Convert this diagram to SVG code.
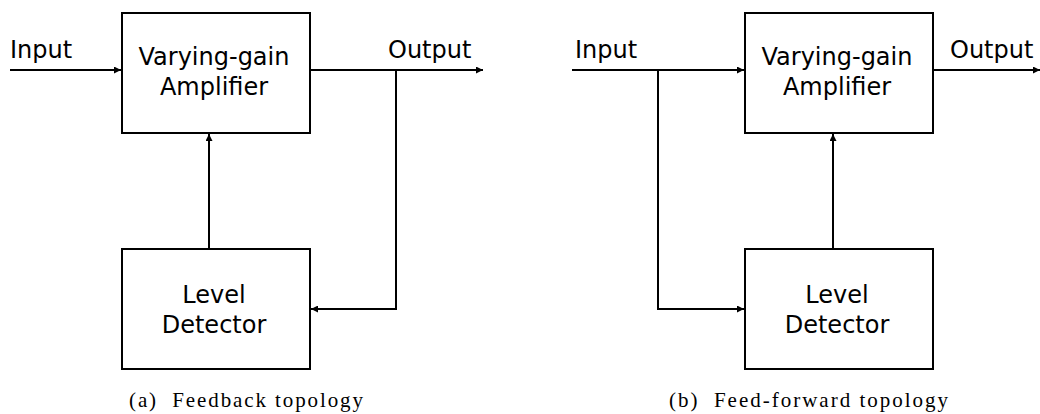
<svg xmlns="http://www.w3.org/2000/svg" width="1040" height="414" viewBox="0 0 1040 414">
  <style>
    .box { fill: #ffffff; stroke: #000000; stroke-width: 2; }
    .wire { fill: none; stroke: #000000; stroke-width: 2; }
    .lbl { font-family: "DejaVu Sans", sans-serif; font-size: 24px; fill: #000000; }
    .mid { text-anchor: middle; }
    .cap { font-family: "Liberation Serif", serif; font-size: 21px; fill: #000000; }
  </style>
  <defs>
    <marker id="arrow" viewBox="0 0 10 10" refX="10" refY="5" markerWidth="7" markerHeight="7" markerUnits="userSpaceOnUse" orient="auto">
      <path d="M0,0 L10,5 L0,10 Z" fill="#000000"/>
    </marker>
  </defs>
  <rect width="1040" height="414" fill="#ffffff"/>

  <!-- (a) feedback topology -->
  <g id="connectors-a">
    <line class="wire" x1="10" y1="70" x2="121" y2="70" marker-end="url(#arrow)"/>
    <line class="wire" x1="310" y1="70" x2="483" y2="70" marker-end="url(#arrow)"/>
    <polyline class="wire" points="396,70 396,309 311,309" marker-end="url(#arrow)"/>
    <line class="wire" x1="209" y1="249" x2="209" y2="134" marker-end="url(#arrow)"/>
  </g>
  <g id="amp-a">
    <rect class="box" x="122" y="13" width="188" height="120"/>
    <text class="lbl mid" x="214" y="65">Varying-gain</text>
    <text class="lbl mid" x="214" y="95">Amplifier</text>
  </g>
  <g id="det-a">
    <rect class="box" x="122" y="249" width="188" height="120"/>
    <text class="lbl mid" x="214" y="303">Level</text>
    <text class="lbl mid" x="214" y="333">Detector</text>
  </g>
  <text class="lbl" x="10" y="58">Input</text>
  <text class="lbl" x="388" y="58">Output</text>
  <text class="cap" x="129" y="407" textLength="234" lengthAdjust="spacing" xml:space="preserve">(a)  Feedback topology</text>

  <!-- (b) feed-forward topology -->
  <g id="connectors-b">
    <line class="wire" x1="572" y1="70" x2="744" y2="70" marker-end="url(#arrow)"/>
    <polyline class="wire" points="658,70 658,309 744,309" marker-end="url(#arrow)"/>
    <line class="wire" x1="933" y1="70" x2="1040" y2="70" marker-end="url(#arrow)"/>
    <line class="wire" x1="833" y1="249" x2="833" y2="134" marker-end="url(#arrow)"/>
  </g>
  <g id="amp-b">
    <rect class="box" x="745" y="13" width="188" height="120"/>
    <text class="lbl mid" x="837" y="65">Varying-gain</text>
    <text class="lbl mid" x="837" y="95">Amplifier</text>
  </g>
  <g id="det-b">
    <rect class="box" x="745" y="249" width="188" height="120"/>
    <text class="lbl mid" x="837" y="303">Level</text>
    <text class="lbl mid" x="837" y="333">Detector</text>
  </g>
  <text class="lbl" x="575" y="58">Input</text>
  <text class="lbl" x="950" y="58">Output</text>
  <text class="cap" x="669" y="407" textLength="279" lengthAdjust="spacing" xml:space="preserve">(b)  Feed-forward topology</text>
</svg>
